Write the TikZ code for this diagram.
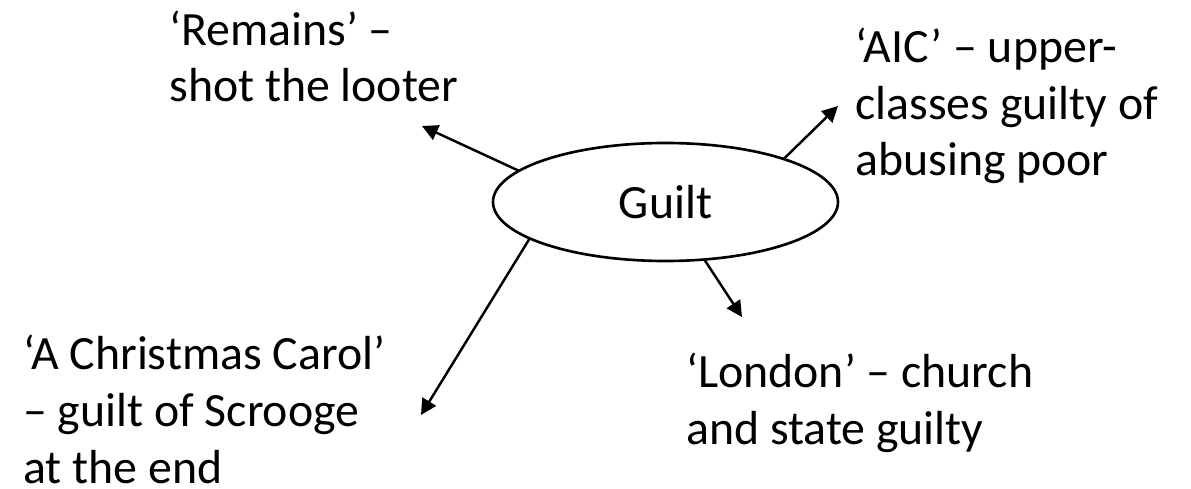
\documentclass[tikz,border=0pt]{standalone}
\usepackage{fontspec}
\setmainfont{Carlito}
\usepackage{tikz}
\usetikzlibrary{arrows.meta,shapes}

\begin{document}
\begin{tikzpicture}[x=0.2mm,y=-0.2mm,font=\fontsize{27.2}{32.4}\selectfont]
		\useasboundingbox (0,0) rectangle (1191,489);
		\node[draw,ellipse,line width=1.5pt,minimum width=69mm,minimum height=23.6mm,inner sep=0pt,outer sep=0pt] (G) at (665.5,202) {Guilt};
		%
		\node[anchor=base west,align=left,inner sep=0pt] (R) at (169,102) {‘Remains’ –\\shot the looter};
		\node[anchor=base west,align=left,inner sep=0pt] (A) at (855,176) {‘AIC’ – upper-\\classes guilty of\\abusing poor};
		\node[anchor=base west,align=left,inner sep=0pt] (C) at (23,483) {‘A Christmas Carol’\\– guilt of Scrooge\\at the end};
		\node[anchor=base west,align=left,inner sep=0pt] (L) at (686,444) {‘London’ – church\\and state guilty};
		%
		\coordinate (R') at (422,126);
		\coordinate (A') at (838,106);
		\coordinate (L') at (742,317);
		\coordinate (C') at (421,415);
		%
		\path[-{Triangle[length=9pt,width=9pt]},line width=1.4pt]
		% upper arrows
		(G.168) edge (R')
		(G.20) edge (A')
		% lower arrows
		(G.-56) edge (L')
		(G.195) edge (C');
\end{tikzpicture}
\end{document}
